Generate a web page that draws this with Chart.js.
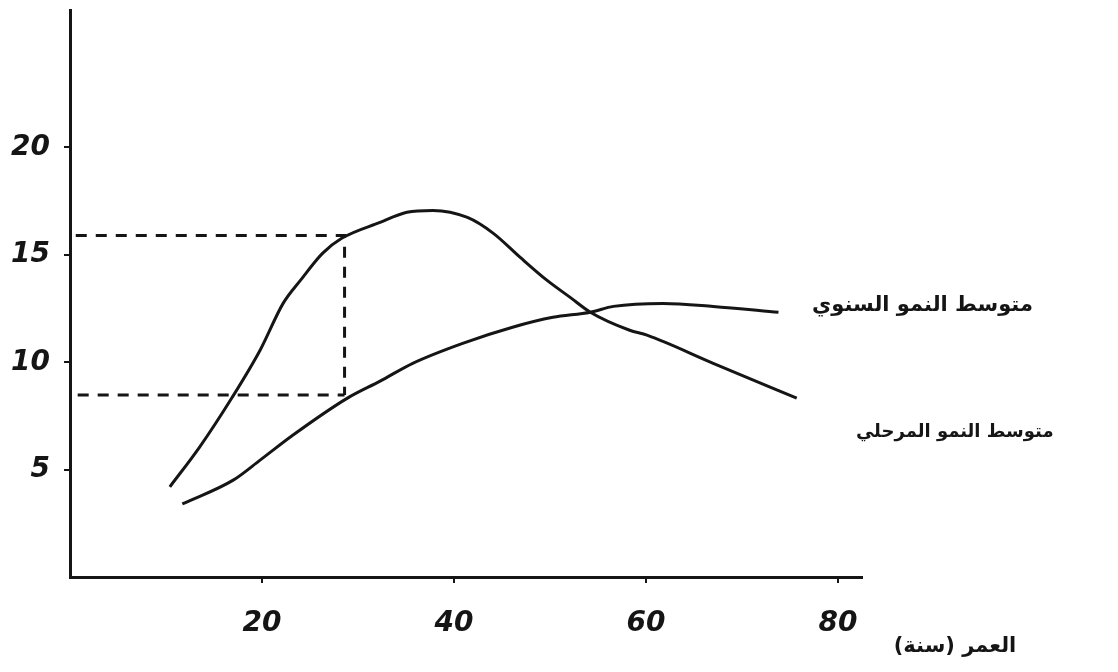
<!DOCTYPE html>
<html lang="ar">
<head>
<meta charset="utf-8">
<title>متوسط النمو</title>
<script src="https://cdn.jsdelivr.net/npm/chart.js@4"></script>
<style>
  html, body { margin: 0; padding: 0; background: #fff; }
  #wrap { width: 1118px; height: 672px; position: relative; }
</style>
</head>
<body>
<div id="wrap"><canvas id="growthChart"></canvas></div>
<script>
// tick labels
const xTicks = [20, 40, 60, 80];
const yTicks = [5, 10, 15, 20];

// hump curve (ends near the lower label)
const stageAge = [10.4, 13.5, 16.9, 19.8, 22.2, 24.0, 26.3, 28.3, 32.3, 35.1, 37.8, 41.4, 44.1, 46.9, 49.7, 52.1, 54.2, 58.3, 60.1, 67.0, 75.7];
const stageGrowth = [4.2, 6.05, 8.37, 10.56, 12.74, 13.81, 15.07, 15.77, 16.51, 16.98, 17.07, 16.74, 16.0, 14.88, 13.81, 13.02, 12.33, 11.49, 11.26, 9.95, 8.33];

// slow rising curve (ends near the upper label)
const annualAge = [11.7, 17.0, 19.8, 23.2, 28.9, 32.3, 35.7, 40.9, 46.1, 50.3, 54.2, 56.6, 61.8, 67.0, 73.8];
const annualGrowth = [3.4, 4.51, 5.44, 6.6, 8.33, 9.12, 9.95, 10.88, 11.63, 12.09, 12.33, 12.6, 12.74, 12.6, 12.33];

// dashed guide lines
const guideAge = [0.6, 28.6, 28.6];
const guideTop = [15.9, 15.9, 8.47];
const guideLowAge = [0.8, 28.6];
const guideLow = [8.47, 8.47];

const stageLabel = 'متوسط النمو المرحلي';
const annualLabel = 'متوسط النمو السنوي';
const axisLabel = 'العمر (سنة)';

function pairs(xs, ys) {
    return xs.map((x, i) => ({ x: x, y: ys[i] }));
}

const ink = '#151515';
const numFont = { family: 'DejaVu Sans', size: 28, weight: 'bold', style: 'italic' };

// draws the curve names next to the end of each curve, and the axis title
const endLabels = {
    id: 'endLabels',
    afterDatasetsDraw(chart) {
        const ctx = chart.ctx;
        ctx.save();
        ctx.fillStyle = ink;
        ctx.textAlign = 'center';
        ctx.textBaseline = 'middle';
        chart.data.datasets.forEach((ds, i) => {
            if (!ds.endLabel) return;
            const pts = chart.getDatasetMeta(i).data;
            const last = pts[pts.length - 1];
            ctx.font = 'bold ' + ds.endSize + 'px "DejaVu Sans"';
            ctx.fillText(ds.endLabel, last.x + ds.endOffset[0], last.y + ds.endOffset[1]);
        });
        const xs = chart.scales.x;
        ctx.font = 'bold 21px "DejaVu Sans"';
        ctx.fillText(axisLabel, xs.right + 93, xs.top + 70);
        ctx.restore();
    }
};

const ctx = document.getElementById('growthChart').getContext('2d');
new Chart(ctx, {
    type: 'line',
    data: {
        datasets: [
            {
                data: pairs(stageAge, stageGrowth),
                borderColor: ink,
                borderWidth: 3,
                pointRadius: 0,
                cubicInterpolationMode: 'monotone',
                endLabel: stageLabel,
                endSize: 18,
                endOffset: [158, 34]
            },
            {
                data: pairs(annualAge, annualGrowth),
                borderColor: ink,
                borderWidth: 3,
                pointRadius: 0,
                cubicInterpolationMode: 'monotone',
                endLabel: annualLabel,
                endSize: 21,
                endOffset: [144, -7]
            },
            {
                data: pairs(guideAge, guideTop),
                borderColor: ink,
                borderWidth: 3,
                borderDash: [11, 9],
                pointRadius: 0,
                tension: 0
            },
            {
                data: pairs(guideLowAge, guideLow),
                borderColor: ink,
                borderWidth: 3,
                borderDash: [11, 9],
                pointRadius: 0,
                tension: 0
            }
        ]
    },
    options: {
        responsive: true,
        maintainAspectRatio: false,
        animation: false,
        layout: { padding: { top: 10, right: 256, left: 0, bottom: 0 } },
        plugins: {
            legend: { display: false },
            tooltip: { enabled: false }
        },
        scales: {
            x: {
                type: 'linear',
                min: 0,
                max: 82.5,
                afterBuildTicks: (scale) => { scale.ticks = xTicks.map(v => ({ value: v })); },
                afterFit: (scale) => { scale.height = 95; },
                border: { display: true, color: ink, width: 3 },
                grid: { drawOnChartArea: false, drawTicks: true, tickLength: 6, color: ink, lineWidth: 2 },
                ticks: { color: ink, font: numFont, padding: 24, maxRotation: 0 }
            },
            y: {
                type: 'linear',
                min: 0,
                max: 26.4,
                afterBuildTicks: (scale) => { scale.ticks = yTicks.map(v => ({ value: v })); },
                afterFit: (scale) => {
                    scale.width = 70;
                    // top tick sits well below the axis end, no room needed for its label
                    scale.paddingTop = 0;
                },
                border: { display: true, color: ink, width: 3 },
                grid: { drawOnChartArea: false, drawTicks: true, tickLength: 6, color: ink, lineWidth: 2 },
                ticks: { color: ink, font: numFont, padding: 14 }
            }
        }
    },
    plugins: [endLabels]
});
</script>
</body>
</html>
